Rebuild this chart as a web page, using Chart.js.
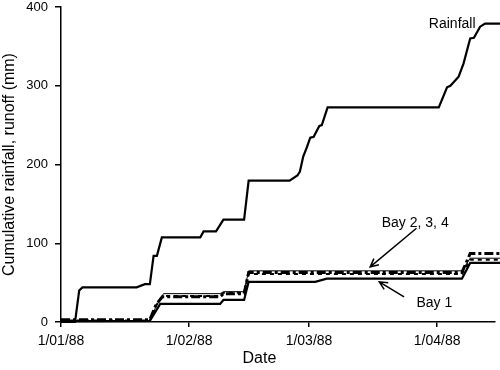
<!DOCTYPE html>
<html>
<head>
<meta charset="utf-8">
<script src="https://cdn.jsdelivr.net/npm/chart.js@4"></script>
<style>
  body { margin: 0; background: #fff; }
  canvas { display: block; }
</style>
</head>
<body>
<canvas id="grafico" width="500" height="370"></canvas>
<script>
// Days since 1 Jan 1988, and cumulative depth in mm
var rainDays = [0, 3.4, 4.4, 5.2, 18.3, 20.3, 21.5, 22.4, 23.2, 24.4, 33.7, 34.5, 37.5, 39.3, 44.3, 45.4,
    55.3, 57.2, 57.8, 58.6, 59.5, 60.3, 61.1, 62.5, 63.1, 64.5, 91.4, 93.4, 94.2, 96.2, 97.4, 99, 99.9,
    101.4, 102.6, 106.5];
var rainMm = [0, 0, 40, 44, 44, 48, 48, 84, 84, 107.5, 107.5, 115, 115, 130, 130, 179.5,
    179.5, 186, 191, 210, 222, 234, 235, 249, 250, 272.6, 272.6, 298, 300, 311.5, 328.5, 360, 361,
    375, 379, 379];

var bay1Days = [0, 21.5, 24, 38.5, 39.3, 44.3, 45.4, 61.5, 64.3, 97, 99, 106.5];
var bay1Mm = [1, 1.5, 23, 23, 28, 28, 51, 51, 55, 55, 75, 75];

var bay2Days = [0, 21.5, 23, 24.5, 38.5, 39.3, 44.3, 45.4, 97, 99, 106.5];
var bay2Mm = [3, 3, 22, 32, 32, 36, 36, 63, 63, 87, 87];

var bay3Days = [0, 21.5, 23, 24.8, 38.5, 39.3, 44.3, 45.4, 97, 99, 106.5];
var bay3Mm = [1, 1, 20, 36, 36, 38.5, 38.5, 65, 65, 81, 81];

var bay4Days = [0, 21.5, 23, 24.6, 38.5, 39.3, 44.3, 45.4, 97, 99, 106.5];
var bay4Mm = [2, 2, 21, 33, 33, 37, 37, 61, 61, 79, 79];

var xTickDays = [0, 31, 60, 91];
var xTickLabels = ['1/01/88', '1/02/88', '1/03/88', '1/04/88'];

function pontos(dias, valores) {
    return dias.map(function(d, i) { return { x: d, y: valores[i] }; });
}

// Text labels and arrows, placed in data units
var anotacoes = {
    id: 'anotacoes',
    afterDatasetsDraw: function(chart) {
        var ctx = chart.ctx;
        var sx = chart.scales.x, sy = chart.scales.y;
        function px(d) { return sx.getPixelForValue(d); }
        function py(v) { return sy.getPixelForValue(v); }

        ctx.save();
        ctx.fillStyle = '#000';
        ctx.font = '14px "Liberation Sans", Arial, sans-serif';
        ctx.textBaseline = 'middle';
        ctx.textAlign = 'left';
        ctx.fillText('Rainfall', px(89), py(378));
        ctx.fillText('Bay 2, 3, 4', px(77.6), py(125.5));
        ctx.fillText('Bay 1', px(86), py(24));

        // axis title under the dates, a little left of centre as in the original
        ctx.font = '16px "Liberation Sans", Arial, sans-serif';
        ctx.textAlign = 'center';
        ctx.fillText('Date', px(48), sx.bottom - 11);

        function seta(d1, v1, d2, v2) {
            var x1 = px(d1), y1 = py(v1), x2 = px(d2), y2 = py(v2);
            var ang = Math.atan2(y2 - y1, x2 - x1);
            ctx.strokeStyle = '#000';
            ctx.lineWidth = 1.5;
            ctx.beginPath();
            ctx.moveTo(x1, y1);
            ctx.lineTo(x2, y2);
            ctx.moveTo(x2 - 9 * Math.cos(ang - 0.45), y2 - 9 * Math.sin(ang - 0.45));
            ctx.lineTo(x2, y2);
            ctx.lineTo(x2 - 9 * Math.cos(ang + 0.45), y2 - 9 * Math.sin(ang + 0.45));
            ctx.stroke();
        }
        seta(86, 119, 74.8, 70);
        seta(83, 32, 77, 51);
        ctx.restore();
    }
};

Chart.defaults.font.family = '"Liberation Sans", Arial, sans-serif';
Chart.defaults.color = '#000';

var ctx = document.getElementById('grafico').getContext('2d');
var grafico = new Chart(ctx, {
    type: 'line',
    data: {
        datasets: [{
            label: 'Rainfall',
            data: pontos(rainDays, rainMm),
            borderColor: '#000',
            borderWidth: 2.2
        }, {
            label: 'Bay 1',
            data: pontos(bay1Days, bay1Mm),
            borderColor: '#000',
            borderWidth: 2.2
        }, {
            label: 'Bay 2',
            data: pontos(bay2Days, bay2Mm),
            borderColor: '#000',
            borderWidth: 3,
            borderDash: [9, 3, 3, 3]
        }, {
            label: 'Bay 3',
            data: pontos(bay3Days, bay3Mm),
            borderColor: '#000',
            borderWidth: 1
        }, {
            label: 'Bay 4',
            data: pontos(bay4Days, bay4Mm),
            borderColor: '#000',
            borderWidth: 2,
            borderDash: [4, 4]
        }]
    },
    options: {
        responsive: false,
        animation: false,
        devicePixelRatio: 1,
        clip: false,
        layout: { padding: { top: 7, right: 5, left: 0, bottom: 0 } },
        elements: {
            point: { radius: 0 },
            line: { tension: 0, borderCapStyle: 'butt' }
        },
        plugins: {
            legend: { display: false },
            tooltip: { enabled: false }
        },
        scales: {
            x: {
                type: 'linear',
                min: 0,
                max: 105,
                afterBuildTicks: function(scale) {
                    scale.ticks = xTickDays.map(function(d) { return { value: d }; });
                },
                afterFit: function(scale) { scale.height = 48; },
                ticks: {
                    autoSkip: false,
                    maxRotation: 0,
                    padding: 6,
                    font: { size: 14 },
                    callback: function(value) {
                        return xTickLabels[xTickDays.indexOf(value)];
                    }
                },
                grid: { drawOnChartArea: false, tickLength: 5, color: '#000', lineWidth: 1.5 },
                border: { color: '#000', width: 1.5 }
            },
            y: {
                min: 0,
                max: 400,
                afterFit: function(scale) {
                    scale.width = 61;
                    // keep the plot top where the original has it
                    scale.paddingTop = 0;
                    scale.paddingBottom = 0;
                },
                ticks: { stepSize: 100, padding: 7, font: { size: 13 } },
                grid: { drawOnChartArea: false, tickLength: 6, color: '#000', lineWidth: 1.5 },
                border: { color: '#000', width: 1.5 },
                title: {
                    display: true,
                    text: 'Cumulative rainfall, runoff (mm)',
                    font: { size: 16 },
                    padding: { top: 0, bottom: 0 }
                }
            }
        }
    },
    plugins: [anotacoes]
});
</script>
</body>
</html>
